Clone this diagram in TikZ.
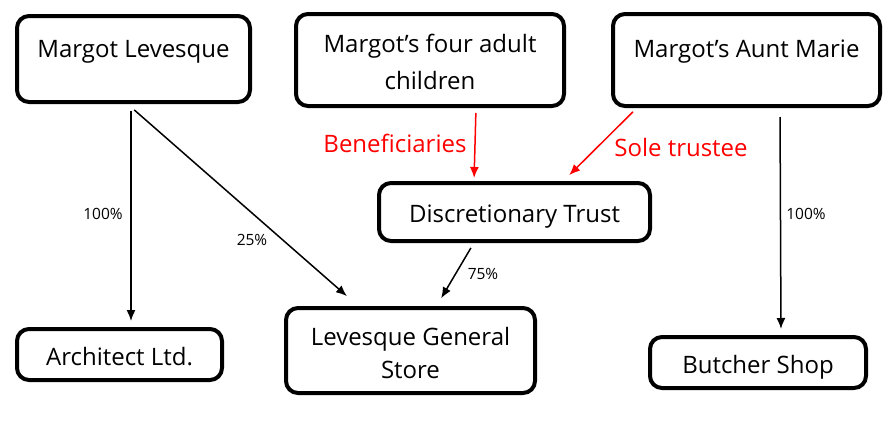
\documentclass[tikz,border=0pt]{standalone}
\usepackage{fontspec}
\setmainfont{Open Sans}
\usetikzlibrary{arrows.meta}

\begin{document}
\begin{tikzpicture}[x=1pt,y=-1pt,
	box/.style={draw,line width=4pt,rounded corners=12pt,inner sep=0pt,align=center,font=\fontsize{24}{37}\selectfont},
	arr/.style={line width=1.5pt,->,>={Latex[length=11pt,width=9pt]}},
	pct/.style={font=\fontsize{15.5}{18}\selectfont},
	rel/.style={red,font=\fontsize{24}{28}\selectfont}]
		\useasboundingbox (0,0) rectangle (895,426);

		\node[box,minimum width=233pt,minimum height=86pt,text height=17pt,text depth=20pt] (ml) at (133.5,59) {Margot Levesque};
		\node[box,minimum width=268pt,minimum height=92pt,text height=58pt,text depth=0pt] (kids) at (430,60) {Margot’s four adult\\children};
		\node[box,minimum width=267pt,minimum height=92pt,text height=17pt,text depth=22pt] (aunt) at (746.5,60) {Margot’s Aunt Marie};
		\node[box,minimum width=271pt,minimum height=58pt,text height=21pt,text depth=1pt] (trust) at (514.5,212) {Discretionary Trust};
		\node[box,minimum width=205pt,minimum height=51pt,text height=22pt,text depth=1pt] (arch) at (119.5,354.5) {Architect Ltd.};
		\node[box,minimum width=249pt,minimum height=85pt,font=\fontsize{24}{33}\selectfont,text height=56pt,text depth=0pt] (store) at (410.5,350.5) {Levesque General\\Store};
		\node[box,minimum width=216pt,minimum height=51pt,text height=22pt,text depth=1pt] (butcher) at (758,362.5) {Butcher Shop};

%		ownership
		\draw[arr,shorten <=7pt,shorten >=6pt] ([xshift=-2.5pt]ml.south) -- ([xshift=11.5pt]arch.north);
		\draw[arr,shorten <=9pt,shorten >=15pt] ([xshift=-6pt]ml.south) -- ([xshift=-52.3pt]store.north);
		\draw[arr,shorten <=5.7pt,shorten >=9pt] ([xshift=-40.7pt]trust.south) -- ([xshift=26.1pt]store.north);
		\draw[arr,shorten <=9pt,shorten >=6pt] ([xshift=33.5pt]aunt.south) -- ([xshift=23pt]butcher.north);
%		trust relations
		\draw[arr,red,shorten <=5pt,shorten >=3pt] ([xshift=46pt]kids.south) -- ([xshift=-40.5pt]trust.north);
		\draw[arr,red,shorten <=5.5pt,shorten >=8.3pt] ([xshift=-109.7pt]aunt.south) -- ([xshift=48.8pt]trust.north);

		\node[pct] (p1) at (103,214) {100\%};
		\node[pct] (p2) at (252,240) {25\%};
		\node[pct] (p3) at (483,274) {75\%};
		\node[pct] (p4) at (806,214) {100\%};
		\node[rel] (ben) at (395,143) {Beneficiaries};
		\node[rel] (sole) at (681,147) {Sole trustee};
	\end{tikzpicture}
\end{document}
